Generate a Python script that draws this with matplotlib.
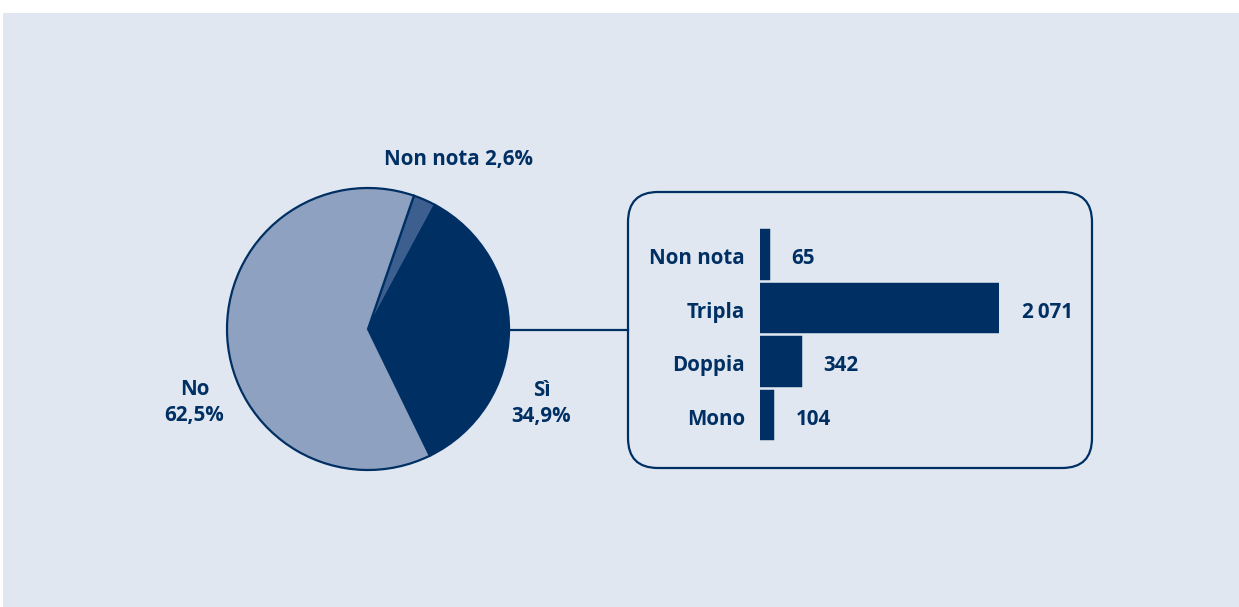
import matplotlib.pyplot as plt
from matplotlib.patches import Rectangle, FancyBboxPatch

plt.rcParams['font.family'] = ['Open Sans', 'DejaVu Sans']
plt.rcParams['font.weight'] = 'bold'

# pie: share of cases
pie_labels = ['Non nota', 'Sì', 'No']
pie_values = [2.6, 34.9, 62.5]
pie_colors = ['#3d5f8f', '#003063', '#8fa1c1']

# bars: breakdown of "Sì"
bar_labels = ['Non nota', 'Tripla', 'Doppia', 'Mono']
bar_values = [65, 2071, 342, 104]
bar_text = ['65', '2\u2009071', '342', '104']

navy = '#003063'
bg = '#e0e7f1'
W, H = 1239, 607
FS = 14.8

fig = plt.figure(figsize=(W / 100, H / 100), dpi=100, facecolor='white')

# background / decoration layer in pixel coords
deco = fig.add_axes([0, 0, 1, 1])
deco.set_xlim(0, W)
deco.set_ylim(H, 0)
deco.axis('off')
deco.add_patch(Rectangle((3, 13), W - 3, H - 13, facecolor=bg, edgecolor='none'))
deco.add_patch(FancyBboxPatch((658, 222), 404, 216,
                              boxstyle='round,pad=30,rounding_size=30',
                              facecolor='none', edgecolor=navy, linewidth=1.6))
deco.plot([509, 628], [330, 330], color=navy, linewidth=1.6)

# pie
ax = fig.add_axes([227 / W, 137 / H, 282 / W, 282 / H])
ax.pie(pie_values, colors=pie_colors, startangle=71, counterclock=False,
       wedgeprops=dict(edgecolor=navy, linewidth=1.6))
ax.set_xlim(-1, 1)
ax.set_ylim(-1, 1)
ax.set_aspect('equal')
ax.axis('off')

fmt = lambda v: f'{v:.1f}'.replace('.', ',') + '%'
ax.text(0.64, 1.20, f'{pie_labels[0]} {fmt(pie_values[0])}', ha='center', va='center',
        fontsize=FS, color=navy)
ax.text(1.23, -0.53, f'{pie_labels[1]}\n{fmt(pie_values[1])}', ha='center', va='center',
        fontsize=FS, color=navy, linespacing=1.3)
ax.text(-1.23, -0.52, f'{pie_labels[2]}\n{fmt(pie_values[2])}', ha='center', va='center',
        fontsize=FS, color=navy, linespacing=1.3)

# bars (edge stroke makes short bars look a bit wider, as in the original)
bx = fig.add_axes([760.25 / W, (H - 441.75) / H, 238.4 / W, 214 / H])
ypos = list(range(len(bar_values)))
bx.barh(ypos, bar_values, height=0.87, color=navy, edgecolor=navy, linewidth=3.2)
bx.set_xlim(0, max(bar_values))
bx.set_ylim(3.5, -0.5)
bx.set_yticks([])
bx.set_xticks([])
for s in bx.spines.values():
    s.set_visible(False)
bx.patch.set_alpha(0)
for i, (v, t, lab) in enumerate(zip(bar_values, bar_text, bar_labels)):
    bx.annotate(lab, (0, i), xytext=(-11, -3), textcoords='offset points',
                ha='right', va='center', fontsize=FS, color=navy)
    bx.annotate(t, (v, i), xytext=(17, -3), textcoords='offset points',
                ha='left', va='center', fontsize=FS, color=navy)

fig.savefig('out.png', dpi=100, facecolor='white')
